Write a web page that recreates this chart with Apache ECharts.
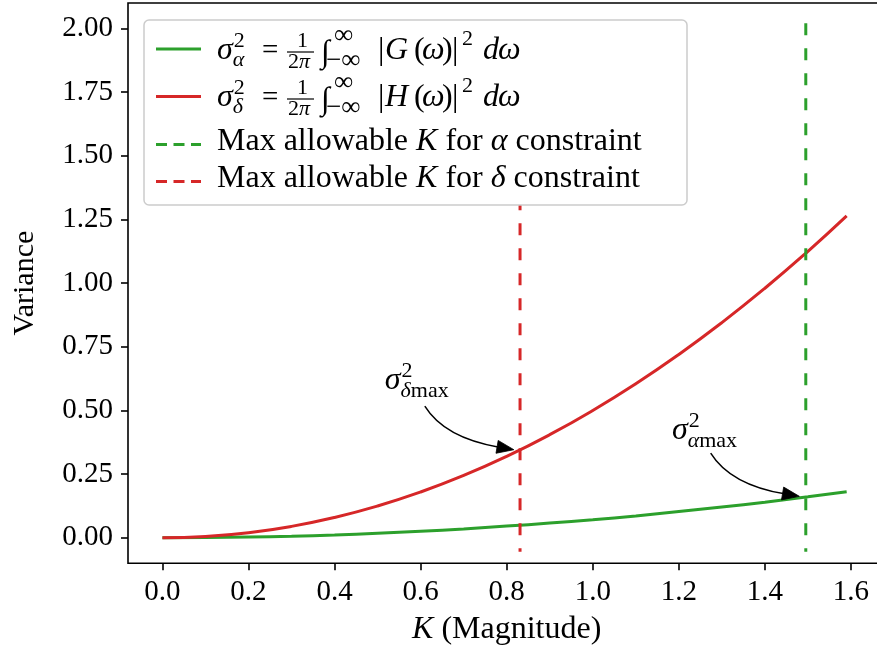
<!DOCTYPE html>
<html>
<head>
<meta charset="utf-8">
<script src="https://cdn.jsdelivr.net/npm/echarts@6/dist/echarts.min.js"></script>
<style>
  html, body { margin: 0; padding: 0; background: #ffffff; }
  #chart { width: 877px; height: 649px; }
</style>
</head>
<body>
<div id="chart"></div>
<script>
// Gain magnitude K and the resulting variances of the two outputs
const kValues       = [0, 0.1, 0.2, 0.3, 0.4, 0.5, 0.6, 0.7, 0.8, 0.9, 1.0, 1.1, 1.2, 1.3, 1.4, 1.5, 1.59];
const alphaVariance = [0, 0.001, 0.003, 0.006, 0.011, 0.018, 0.026, 0.035, 0.046, 0.058, 0.071, 0.086, 0.103, 0.121, 0.140, 0.161, 0.181];
const deltaVariance = [0, 0.005, 0.020, 0.045, 0.080, 0.125, 0.180, 0.245, 0.320, 0.405, 0.500, 0.605, 0.720, 0.845, 0.980, 1.125, 1.264];

// Largest admissible gains for each constraint
const alphaLimitK = 1.495;
const deltaLimitK = 0.831;
const limitLineSpan = [2.02, -0.055];

// Axis ticks
const xTickValues = [0, 0.2, 0.4, 0.6, 0.8, 1.0, 1.2, 1.4, 1.6];
const yTickValues = [0, 0.25, 0.5, 0.75, 1.0, 1.25, 1.5, 1.75, 2.0];

// Annotation arrows: [start, tip] in data units, and label anchors
const deltaArrow = [[0.6097, 0.517], [0.8166, 0.346]];
const alphaArrow = [[1.274, 0.333], [1.480, 0.163]];
const deltaLabelAnchor = [0.5167, 0.5737];
const alphaLabelAnchor = [1.1839, 0.3776];

const legendTexts = ['Max allowable ', 'K', ' for ', 'α', 'δ', ' constraint'];

const GREEN = '#2ca02c';
const RED = '#d62728';
const SERIF = '"Liberation Serif", "DejaVu Serif", serif';
const TICK = 29;   // tick label size
const F = 32;      // text size
const S = 22;      // script size

const chart = echarts.init(document.getElementById('chart'), null, { renderer: 'canvas' });

function pairs(xs, ys) { return xs.map((x, i) => [x, ys[i]]); }

const option = {
  animation: false,
  backgroundColor: '#ffffff',
  grid: {
    left: 128, top: 3, right: -8.4, bottom: 85.7,
    show: true, borderColor: '#000', borderWidth: 1.6,
    outerBoundsMode: 'none', containLabel: false
  },
  xAxis: {
    type: 'value', min: -0.08, max: 1.68,
    name: '{i|K} (Magnitude)', nameLocation: 'middle', nameGap: 50,
    nameTextStyle: {
      fontFamily: SERIF, fontSize: F, color: '#000',
      rich: { i: { fontFamily: SERIF, fontSize: F, fontStyle: 'italic', color: '#000' } }
    },
    axisLine: { show: false, onZero: false },
    splitLine: { show: false },
    axisTick: { show: true, customValues: xTickValues, length: 7, inside: false, lineStyle: { color: '#000', width: 1.6 } },
    axisLabel: {
      customValues: xTickValues, margin: 15,
      fontFamily: SERIF, fontSize: TICK, color: '#000',
      formatter: v => v.toFixed(1)
    }
  },
  yAxis: {
    type: 'value', min: -0.1, max: 2.1,
    name: 'Variance', nameLocation: 'middle', nameGap: 88, nameRotate: 90,
    nameTextStyle: { fontFamily: SERIF, fontSize: 30, color: '#000' },
    axisLine: { show: false, onZero: false },
    splitLine: { show: false },
    axisTick: { show: true, customValues: yTickValues, length: 7, inside: false, lineStyle: { color: '#000', width: 1.6 } },
    axisLabel: {
      customValues: yTickValues, margin: 15,
      fontFamily: SERIF, fontSize: TICK, color: '#000',
      formatter: v => v.toFixed(2)
    }
  },
  series: [
    {
      name: 'alpha', type: 'line', data: pairs(kValues, alphaVariance),
      smooth: true, showSymbol: false, symbol: 'none',
      lineStyle: { color: GREEN, width: 3 }, z: 2
    },
    {
      name: 'delta', type: 'line', data: pairs(kValues, deltaVariance),
      smooth: true, showSymbol: false, symbol: 'none',
      lineStyle: { color: RED, width: 3 }, z: 2
    },
    {
      name: 'alphaLimit', type: 'line',
      data: limitLineSpan.map(v => [alphaLimitK, v]),
      showSymbol: false, symbol: 'none',
      lineStyle: { color: GREEN, width: 3, type: [12, 13] }, z: 3
    },
    {
      name: 'deltaLimit', type: 'line',
      data: limitLineSpan.map(v => [deltaLimitK, v]),
      showSymbol: false, symbol: 'none',
      lineStyle: { color: RED, width: 3, type: [12, 13] }, z: 3
    }
  ]
};
chart.setOption(option);

// ---- math typesetting helpers for the legend and annotation labels ----
const measureCtx = document.createElement('canvas').getContext('2d');
function fontStr(size, italic) { return (italic ? 'italic ' : '') + size + 'px ' + SERIF; }
function measure(str, size, italic) { measureCtx.font = fontStr(size, italic); return measureCtx.measureText(str).width; }
function glyph(str, x, base, size, italic) {
  return {
    type: 'text', x: x, y: base - 0.3375 * size, silent: true, z: 100,
    style: {
      text: str, font: fontStr(size, italic), fill: '#000',
      textAlign: 'left', textVerticalAlign: 'middle', align: 'left', verticalAlign: 'middle'
    }
  };
}

// sigma with superscript 2 and a subscript
function sigmaSq(els, x, b, subParts) {
  els.push(glyph('σ', x, b, F, true));
  const cx = x + measure('σ', F, true) + 1;
  els.push(glyph('2', cx, b - 0.40 * F, S, false));
  let sx = cx - 1;
  subParts.forEach(p => {
    els.push(glyph(p.t, sx, b + 0.22 * F, S, p.i));
    sx += measure(p.t, S, p.i);
  });
}

// (1/2π) ∫ |X(ω)|² dω, glyph offsets relative to the formula origin
function varianceFormula(els, x, b, sub, fn) {
  sigmaSq(els, x, b, [{ t: sub, i: true }]);
  const axisY = b - 9;
  const items = [
    ['=', 45, 0, 29, false],
    ['1', 80, -12, S, false],
    ['2', 71, 8.5, S, false],
    ['π', 82, 8.5, S, true],
    ['∫', 104, 3, F, false],
    ['∞', 117, -16, 27, false],
    ['−∞', 109, 9.5, 27, false],
    ['|', 161, 0, F, false],
    [fn, 168, 0, F, true],
    ['(', 197, 0, F, false],
    ['ω', 205, 0, F, true],
    [')', 225, 0, F, false],
    ['|', 235, 0, F, false],
    ['2', 245, -14.5, S, false],
    ['d', 266, 0, F, true],
    ['ω', 281, 0, F, true]
  ];
  items.forEach(([t, dx, dy, sz, it]) => els.push(glyph(t, x + dx, b + dy, sz, it)));
  els.push({
    type: 'line', silent: true, z: 100,
    shape: { x1: x + 70, y1: axisY, x2: x + 97, y2: axisY },
    style: { stroke: '#000', lineWidth: 1.2 }
  });
}

function textRow(els, x, b, sym) {
  let cx = x;
  const parts = [[legendTexts[0], false], [legendTexts[1], true], [legendTexts[2], false], [sym, true], [legendTexts[5], false]];
  parts.forEach(([t, it]) => { els.push(glyph(t, cx, b, F, it)); cx += measure(t, F, it); });
}

// curved annotation arrow with a filled head, from data-space start to tip
function arrow(els, seg) {
  const p0 = chart.convertToPixel({ gridIndex: 0 }, seg[0]);
  const p1 = chart.convertToPixel({ gridIndex: 0 }, seg[1]);
  const mx = (p0[0] + p1[0]) / 2, my = (p0[1] + p1[1]) / 2;
  const cdx = p1[0] - p0[0], cdy = p1[1] - p0[1];
  const cpx = mx + 0.2 * (p0[1] - p1[1]) - 0.18 * cdx;
  const cpy = my + 0.2 * cdx - 0.18 * cdy;
  let tx = p1[0] - cpx, ty = p1[1] - cpy;
  const len = Math.hypot(tx, ty); tx /= len; ty /= len;
  const headL = 17, headW = 6.5;
  const bx = p1[0] - tx * headL, by = p1[1] - ty * headL;
  els.push({
    type: 'bezierCurve', silent: true, z: 60,
    shape: { x1: p0[0], y1: p0[1], x2: bx + tx * 2, y2: by + ty * 2, cpx1: cpx, cpy1: cpy },
    style: { stroke: '#000', lineWidth: 1.5, fill: null }
  });
  els.push({
    type: 'polygon', silent: true, z: 61,
    shape: { points: [[p1[0], p1[1]], [bx - ty * headW, by + tx * headW], [bx + ty * headW, by - tx * headW]] },
    style: { fill: '#000', stroke: '#000', lineWidth: 0.8 }
  });
}

const els = [];
// legend frame
els.push({
  type: 'rect', silent: true, z: 90,
  shape: { x: 144, y: 20, width: 543, height: 185, r: 5 },
  style: { fill: '#ffffff', stroke: '#cccccc', lineWidth: 1.5 }
});
const handleX = [156, 201];
const rowHandleY = [49, 96.5, 144.5, 181.5];
const rowColors = [GREEN, RED, GREEN, RED];
const rowDashed = [false, false, true, true];
rowHandleY.forEach((y, i) => {
  els.push({
    type: 'line', silent: true, z: 95,
    shape: { x1: handleX[0], y1: y, x2: handleX[1], y2: y },
    style: { stroke: rowColors[i], lineWidth: 3, lineDash: rowDashed[i] ? [11, 6.5] : null }
  });
});
const textX = 217;
varianceFormula(els, textX, 61, 'α', 'G');
varianceFormula(els, textX, 108, 'δ', 'H');
textRow(els, textX, 152, legendTexts[3]);
textRow(els, textX, 189, legendTexts[4]);

// annotation labels and arrows
const dl = chart.convertToPixel({ gridIndex: 0 }, deltaLabelAnchor);
sigmaSq(els, dl[0], dl[1], [{ t: 'δ', i: true }, { t: 'max', i: false }]);
const al = chart.convertToPixel({ gridIndex: 0 }, alphaLabelAnchor);
sigmaSq(els, al[0], al[1], [{ t: 'α', i: true }, { t: 'max', i: false }]);
arrow(els, deltaArrow);
arrow(els, alphaArrow);

chart.setOption({ graphic: { elements: els } });
</script>
</body>
</html>
